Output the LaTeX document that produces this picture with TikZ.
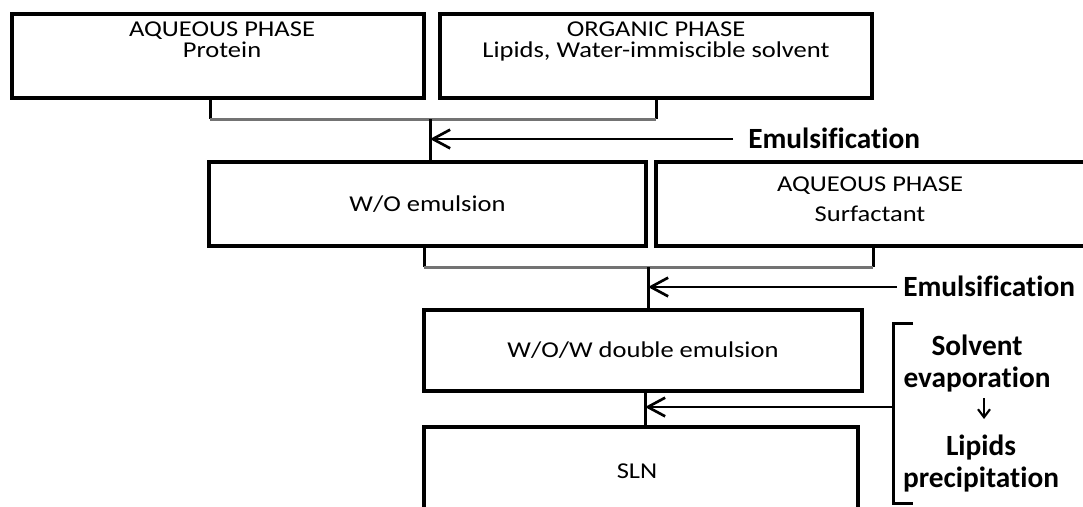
\documentclass[tikz,border=0pt]{standalone}
\usepackage{fontspec}
\setmainfont{Carlito}[FakeStretch=1.17, Ligatures=NoCommon]
\newfontfamily\lblfont{Carlito}[Ligatures=NoCommon]
\usetikzlibrary{arrows.meta}
\begin{document}
\begin{tikzpicture}[x=0.75pt,y=-0.75pt,
  box/.style={draw, line width=3pt, inner sep=0pt},
  txt/.style={inner sep=0pt, align=center, anchor=north, font=\fontsize{17pt}{15.75pt}\selectfont},
  lbl/.style={inner sep=0pt, align=center, font=\fontsize{22pt}{24pt}\lblfont\bfseries},
  conn/.style={line width=2.25pt},
  brk/.style={line width=2.25pt, draw=black!55},
  arr/.style={line width=2pt, -{Straight Barb[length=13pt,width=14pt,line width=2pt]}},
  darr/.style={line width=1.6pt, -{Straight Barb[length=6pt,width=9pt,line width=1.6pt]}}]
\useasboundingbox (0,0) rectangle (1083,507);
\clip (0,0) rectangle (1083,507);
% boxes
\node[box, minimum width=309pt, minimum height=63pt] (aq1) at (218,56) {};
\node[box, minimum width=324pt, minimum height=63pt] (org) at (656,56) {};
\node[box, minimum width=327.75pt, minimum height=63pt] (wo) at (427.5,204) {};
\node[box, minimum width=325.5pt, minimum height=63pt] (aq2) at (873,204) {};
\node[box, minimum width=328.5pt, minimum height=60.75pt] (wow) at (643,350.5) {};
\node[box, minimum width=325.5pt, minimum height=69.75pt] (sln) at (641,473.5) {};
% box texts
\node[txt] (aq1t) at (222,22) {AQUEOUS PHASE\\Protein};
\node[txt] (orgt) at (656,22) {ORGANIC PHASE\\Lipids, Water-immiscible solvent};
\node[txt] (wot) at (427.5,195) {W/O emulsion};
\node[txt, font=\fontsize{17pt}{22pt}\selectfont] (aq2t) at (870,177) {AQUEOUS PHASE\\Surfactant};
\node[txt] (wowt) at (643,341) {W/O/W double emulsion};
\node[txt] (slnt) at (637,464) {SLN};
% bracket 1
\coordinate (b1l) at (210,119);
\coordinate (b1r) at (656,119);
\coordinate (b1m) at (430,119);
\draw[conn] (b1l |- aq1.south) -- (b1l);
\draw[conn] (b1r |- org.south) -- (b1r);
\draw[brk] (b1l) -- (b1r);
\draw[conn] (b1m) -- (b1m |- wo.north);
\coordinate (t1) at (430,139);
\node[lbl, anchor=base west] (em1) at (748,148) {Emulsification};
\coordinate (s1) at (733,139);
\draw[arr] (s1) -- (t1);
% bracket 2
\coordinate (b2l) at (424,267);
\coordinate (b2r) at (873,267);
\coordinate (b2m) at (648,267);
\draw[conn] (b2l |- wo.south) -- (b2l);
\draw[conn] (b2r |- aq2.south) -- (b2r);
\draw[brk] (b2l) -- (b2r);
\draw[conn] (b2m) -- (b2m |- wow.north);
\coordinate (t2) at (648,287);
\node[lbl, anchor=base west] (em2) at (903,296) {Emulsification};
\coordinate (s2) at (897,287);
\draw[arr] (s2) -- (t2);
% step 3
\coordinate (v3) at (645,391);
\draw[conn] (wow.south -| v3) -- (sln.north -| v3);
\coordinate (t3) at (645,407);
\coordinate (k1) at (913,323);
\coordinate (k2) at (913,503);
\coordinate (bk) at (893,407);
\draw[conn] (k1) -- (k1 -| bk) -- (k2 -| bk) -- (k2);
\draw[arr] (bk) -- (t3);
\node[lbl, anchor=base] (solv) at (977,387) {Solvent\\evaporation};
\node[lbl, anchor=base] (lip) at (981,487) {Lipids\\precipitation};
\coordinate (da1) at (984,398);
\coordinate (da2) at (984,419);
\draw[darr] (da1) -- (da2);
\end{tikzpicture}
\end{document}
